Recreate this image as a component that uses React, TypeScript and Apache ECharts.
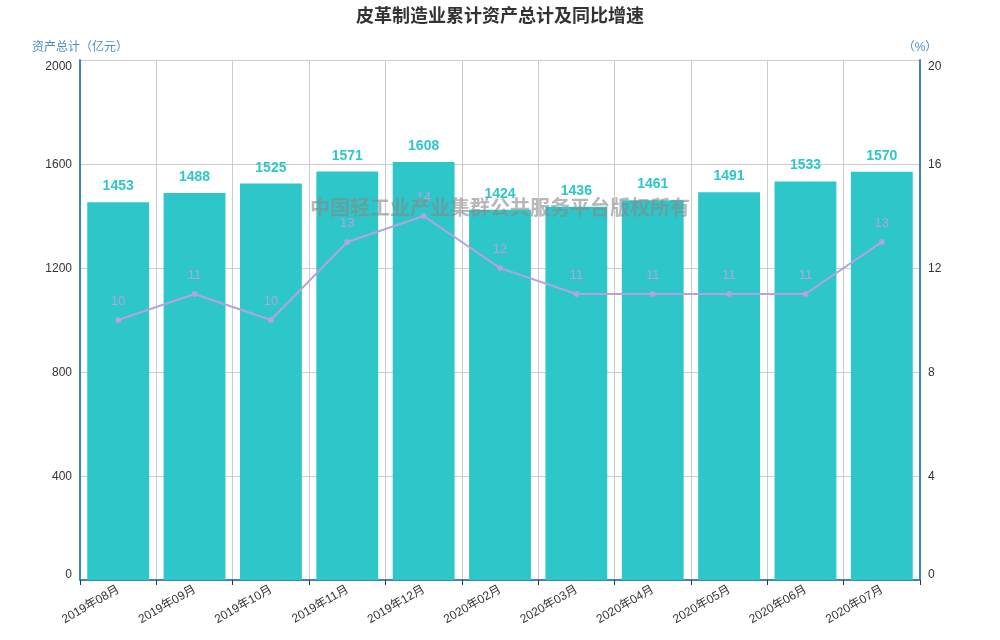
import React, { useEffect, useRef } from "react";
import * as echarts from "echarts";

const categories = [
  "2019年08月", "2019年09月", "2019年10月", "2019年11月", "2019年12月",
  "2020年02月", "2020年03月", "2020年04月", "2020年05月", "2020年06月", "2020年07月",
];
const assetTotals = [1453, 1488, 1525, 1571, 1608, 1424, 1436, 1461, 1491, 1533, 1570];
const yoyGrowth = [10, 11, 10, 13, 14, 12, 11, 11, 11, 11, 13];

const FONT = "'Liberation Sans', Arial, 'Noto Sans CJK SC', sans-serif";
const AXIS_BLUE = "#3f84bf";

const edgeLabel = (maxV: number) => (v: number) =>
  v === maxV ? `{top|${v}}` : v === 0 ? `{bot|${v}}` : String(v);

const edgeRich = {
  top: { padding: [12, 0, 0, 0], color: "#333", fontSize: 12, fontFamily: FONT },
  bot: { padding: [0, 0, 12, 0], color: "#333", fontSize: 12, fontFamily: FONT },
};

export default function App() {
  const ref = useRef<HTMLDivElement>(null);
  useEffect(() => {
    if (!ref.current) return;
    const chart = echarts.init(ref.current, undefined, { renderer: "svg" });
    chart.setOption({
      animation: false,
      textStyle: { fontFamily: FONT },
      title: {
        text: "皮革制造业累计资产总计及同比增速",
        left: "center",
        top: 2,
        textStyle: { fontSize: 18, fontWeight: "bold", color: "#333", fontFamily: FONT },
      },
      graphic: [
        {
          type: "text",
          left: "center",
          top: 198,
          z: 100,
          style: {
            text: "中国轻工业产业集群公共服务平台版权所有",
            fontSize: 20,
            fontWeight: "bold",
            fill: "rgba(135,135,135,0.6)",
            fontFamily: FONT,
          },
        },
      ],
      grid: { left: 80, right: 80, top: 60, bottom: 60, containLabel: false },
      xAxis: {
        type: "category",
        data: categories,
        axisLine: { lineStyle: { color: AXIS_BLUE, width: 2 } },
        axisTick: { show: true, lineStyle: { color: "#333" } },
        axisLabel: { color: "#333", fontSize: 12, rotate: 30, interval: 0 },
        splitLine: { show: true, lineStyle: { color: "#ccc" } },
      },
      yAxis: [
        {
          type: "value",
          name: "资产总计（亿元）",
          nameGap: 7,
          nameTextStyle: { color: "#4a90c9", fontSize: 12 },
          min: 0,
          max: 2000,
          interval: 400,
          axisLine: { show: true, lineStyle: { color: AXIS_BLUE, width: 2 } },
          axisTick: { show: false },
          axisLabel: { color: "#333", fontSize: 12, formatter: edgeLabel(2000), rich: edgeRich },
          splitLine: { show: true, lineStyle: { color: "#ccc" } },
        },
        {
          type: "value",
          name: "（%）",
          nameGap: 7,
          nameTextStyle: { color: "#4a90c9", fontSize: 12 },
          min: 0,
          max: 20,
          interval: 4,
          axisLine: { show: true, lineStyle: { color: AXIS_BLUE, width: 2 } },
          axisTick: { show: false },
          axisLabel: { color: "#333", fontSize: 12, formatter: edgeLabel(20), rich: edgeRich },
          splitLine: { show: false },
        },
      ],
      series: [
        {
          type: "bar",
          name: "资产总计",
          data: assetTotals,
          barWidth: "81%",
          itemStyle: { color: "#2ec7c9" },
          label: {
            show: true,
            position: "top",
            distance: 10,
            color: "#2ec7c9",
            fontWeight: "bold",
            fontSize: 14,
          },
        },
        {
          type: "line",
          name: "同比增速",
          yAxisIndex: 1,
          data: yoyGrowth,
          symbol: "circle",
          symbolSize: 6,
          lineStyle: { color: "#b6a2de", width: 2 },
          itemStyle: { color: "#b6a2de" },
          label: {
            show: true,
            position: "top",
            distance: 10,
            color: "#b6a2de",
            fontSize: 13,
          },
        },
      ],
    });
    return () => chart.dispose();
  }, []);
  return (
    <div
      ref={ref}
      style={{ position: "fixed", left: 0, top: 0, width: 1000, height: 640 }}
    />
  );
}
